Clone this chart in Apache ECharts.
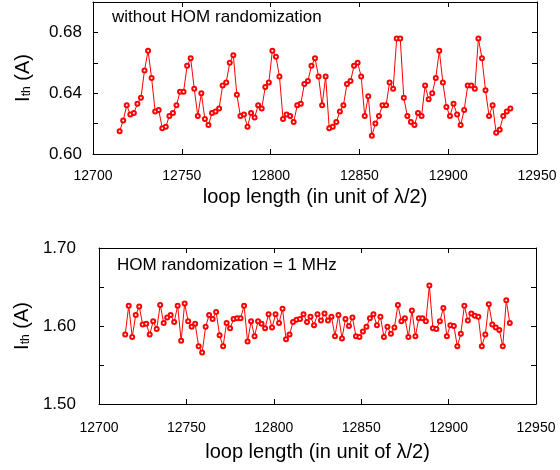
<!DOCTYPE html>
<html>
<head>
<meta charset="utf-8">
<script src="https://cdn.jsdelivr.net/npm/echarts@6/dist/echarts.min.js"></script>
<style>
html,body{margin:0;padding:0;background:#fff;}
#chart{width:560px;height:470px;}
</style>
</head>
<body>
<div id="chart"></div>
<script>
var loopLength = [12715,12717,12719,12721,12723,12725,12727,12729,12731,12733,
12735,12737,12739,12741,12743,12745,12747,12749,12751,12753,
12755,12757,12759,12761,12763,12765,12767,12769,12771,12773,
12775,12777,12779,12781,12783,12785,12787,12789,12791,12793,
12795,12797,12799,12801,12803,12805,12807,12809,12811,12813,
12815,12817,12819,12821,12823,12825,12827,12829,12831,12833,
12835,12837,12839,12841,12843,12845,12847,12849,12851,12853,
12855,12857,12859,12861,12863,12865,12867,12869,12871,12873,
12875,12877,12879,12881,12883,12885,12887,12889,12891,12893,
12895,12897,12899,12901,12903,12905,12907,12909,12911,12913,
12915,12917,12919,12921,12923,12925,12927,12929,12931,12933,
12935];

var ithNoRandom = [0.615,0.622,0.632,0.626,0.627,0.633,0.637,0.655,0.668,0.650,
0.628,0.629,0.617,0.618,0.625,0.627,0.632,0.641,0.641,0.658,
0.663,0.643,0.625,0.640,0.623,0.619,0.627,0.628,0.630,0.645,
0.647,0.660,0.665,0.639,0.625,0.626,0.618,0.627,0.624,0.632,
0.630,0.644,0.647,0.668,0.664,0.651,0.623,0.626,0.625,0.621,
0.632,0.633,0.646,0.648,0.658,0.663,0.651,0.632,0.651,0.617,
0.618,0.621,0.628,0.632,0.646,0.648,0.658,0.660,0.651,0.625,
0.638,0.612,0.620,0.625,0.632,0.632,0.647,0.643,0.676,0.676,
0.637,0.625,0.621,0.619,0.627,0.625,0.645,0.636,0.640,0.650,
0.668,0.647,0.631,0.625,0.633,0.626,0.619,0.629,0.645,0.645,
0.643,0.676,0.663,0.642,0.625,0.632,0.614,0.616,0.625,0.628,
0.630];

var ithRandom1MHz = [1.589,1.626,1.586,1.614,1.625,1.602,1.603,1.589,1.606,1.596,
1.627,1.604,1.611,1.614,1.605,1.626,1.581,1.629,1.606,1.599,
1.603,1.574,1.566,1.599,1.614,1.609,1.618,1.588,1.574,1.604,
1.597,1.609,1.610,1.610,1.626,1.580,1.606,1.587,1.606,1.603,
1.597,1.615,1.598,1.615,1.604,1.622,1.583,1.589,1.605,1.608,
1.609,1.615,1.605,1.612,1.601,1.615,1.607,1.616,1.607,1.612,
1.587,1.614,1.584,1.609,1.600,1.611,1.587,1.586,1.593,1.599,
1.610,1.615,1.601,1.612,1.586,1.599,1.590,1.598,1.627,1.606,
1.610,1.586,1.620,1.587,1.610,1.610,1.606,1.652,1.597,1.596,
1.606,1.623,1.587,1.601,1.600,1.574,1.590,1.626,1.607,1.616,
1.613,1.612,1.574,1.589,1.628,1.602,1.598,1.595,1.574,1.633,
1.604];

var topYLabels = ['0.60','0.64','0.68'];
var bottomYLabels = ['1.50','1.60','1.70'];
var xName = 'loop length (in unit of \u03bb/2)';
var topTitle = 'without HOM randomization';
var bottomTitle = 'HOM randomization = 1 MHz';

function pairs(xs, ys){ return xs.map(function(x,i){ return [x, ys[i]]; }); }

var FONT = '"Liberation Sans", Arial, sans-serif';
var axisLine = {show:true, lineStyle:{color:'#000', width:1}};
var tick = {show:true, inside:true, length:5, lineStyle:{color:'#000'}};

function xMain(gi, margin, gap){
  return {gridIndex:gi, type:'value', min:12700, max:12950, interval:50, position:'bottom',
    axisLine:axisLine, axisTick:tick, splitLine:{show:false},
    axisLabel:{fontFamily:FONT, fontSize:14, color:'#000', margin:margin, showMinLabel:true, showMaxLabel:true,
      formatter:function(v){ return String(Math.round(v)); }},
    name:xName, nameLocation:'middle', nameGap:gap,
    nameTextStyle:{fontFamily:FONT, fontSize:20, color:'#000'}};
}
function xMirror(gi){
  return {gridIndex:gi, type:'value', min:12700, max:12950, interval:50, position:'top',
    axisLine:axisLine, axisTick:tick, axisLabel:{show:false}, splitLine:{show:false}};
}
function yMain(gi, min, max, interval, labels, margin, gap){
  return {gridIndex:gi, type:'value', min:min, max:max, interval:interval, position:'left',
    axisLine:axisLine, axisTick:tick, splitLine:{show:false},
    axisLabel:{fontFamily:FONT, fontSize:17, color:'#000', margin:margin,
      formatter:function(v){ var s=v.toFixed(2); return labels.indexOf(s)>=0 ? s : ''; }},
    name:'{a|I}{b|th}{a| (A)}', nameLocation:'middle', nameGap:gap, nameRotate:90,
    nameTextStyle:{fontFamily:FONT, color:'#000',
      rich:{a:{fontFamily:FONT, fontSize:20, color:'#000', verticalAlign:'bottom'},
            b:{fontFamily:FONT, fontSize:12, color:'#000', verticalAlign:'bottom', padding:[3,0,0,0]}}}};
}
function yMirror(gi, min, max, interval){
  return {gridIndex:gi, type:'value', min:min, max:max, interval:interval, position:'right',
    axisLine:axisLine, axisTick:tick, axisLabel:{show:false}, splitLine:{show:false}};
}

var chart = echarts.init(document.getElementById('chart'), null, {renderer:'canvas'});
chart.setOption({
  animation:false,
  backgroundColor:'#fff',
  grid:[
    {left:93, top:2, width:444, height:152},
    {left:99, top:248, width:437, height:156}
  ],
  xAxis:[ xMain(0, 15, 33), xMirror(0), xMain(1, 17, 38), xMirror(1) ],
  yAxis:[
    yMain(0, 0.6, 0.7, 0.02, topYLabels, 11, 60), yMirror(0, 0.6, 0.7, 0.02),
    yMain(1, 1.5, 1.7, 0.05, bottomYLabels, 23, 66), yMirror(1, 1.5, 1.7, 0.05)
  ],
  graphic:[
    {type:'text', left:112, top:9, style:{text:topTitle, font:'17px ' + FONT, fill:'#000'}},
    {type:'text', left:117, top:257, style:{text:bottomTitle, font:'17px ' + FONT, fill:'#000'}}
  ],
  series:[
    {type:'line', xAxisIndex:0, yAxisIndex:0, data:pairs(loopLength, ithNoRandom),
      symbol:'emptyCircle', symbolSize:4, showAllSymbol:true,
      lineStyle:{color:'#ff0000', width:1}, itemStyle:{color:'#ff0000', borderWidth:1}},
    {type:'line', xAxisIndex:2, yAxisIndex:2, data:pairs(loopLength, ithRandom1MHz),
      symbol:'emptyCircle', symbolSize:4, showAllSymbol:true,
      lineStyle:{color:'#ff0000', width:1}, itemStyle:{color:'#ff0000', borderWidth:1}}
  ]
});
</script>
</body>
</html>
